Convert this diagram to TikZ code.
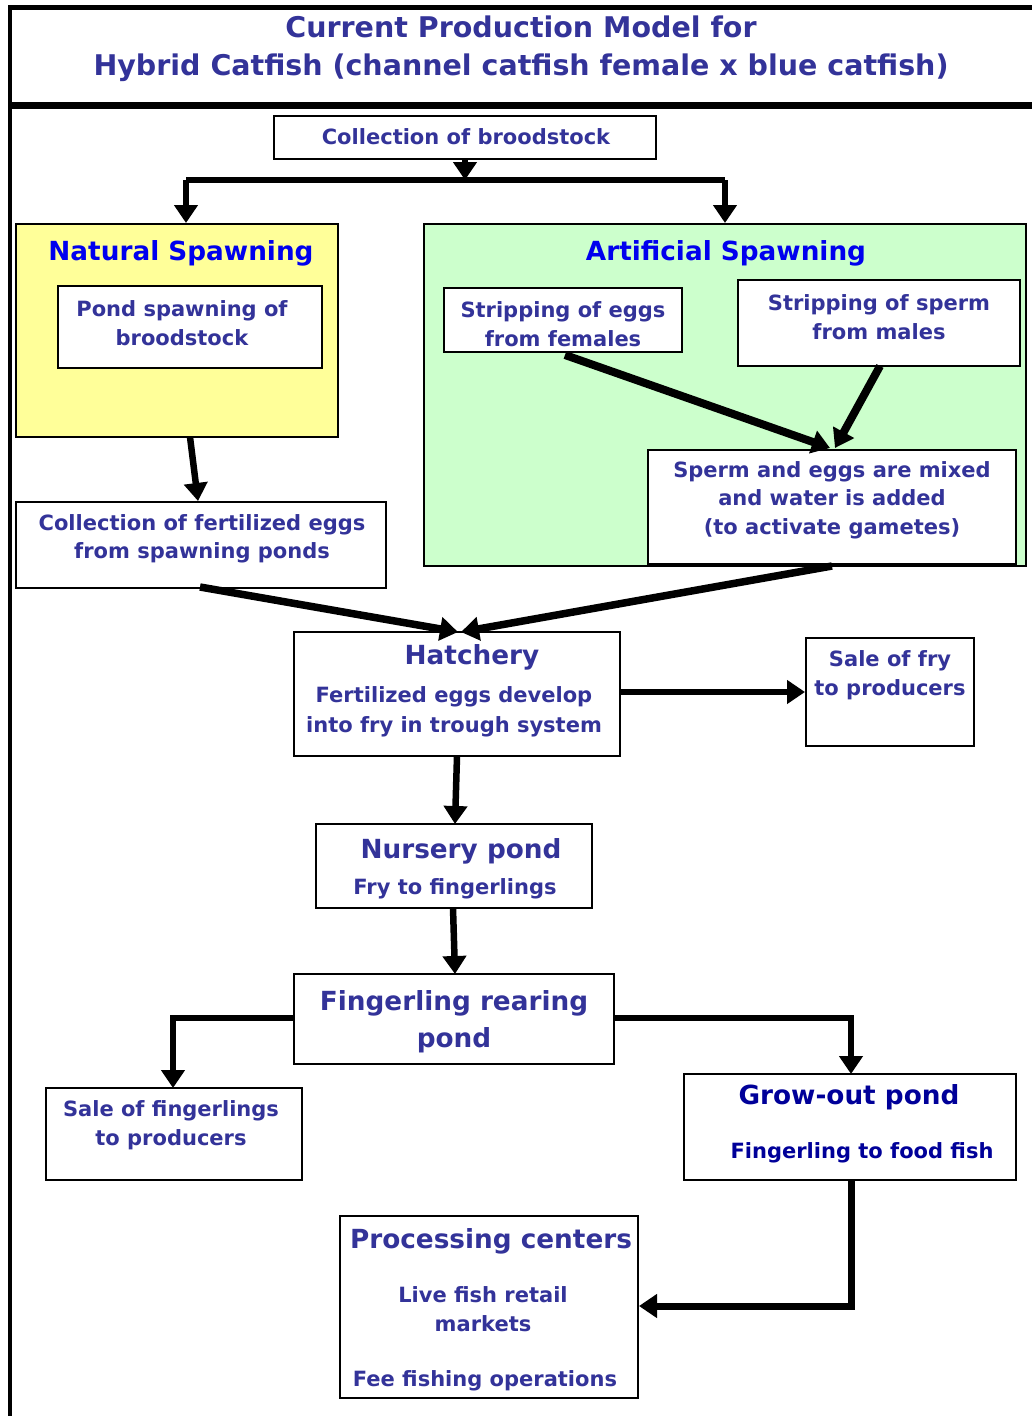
\documentclass[tikz,border=0pt]{standalone}
\usepackage{fontspec}
\setmainfont{DejaVu Sans}[BoldFont={DejaVu Sans Bold}]
\usetikzlibrary{arrows.meta}
\definecolor{txt}{HTML}{333399}
\definecolor{hdblue}{HTML}{0000EE}
\definecolor{navy}{HTML}{000099}
\definecolor{natfill}{HTML}{FFFF99}
\definecolor{artfill}{HTML}{CCFFCC}
\tikzset{
  box/.style={draw=black, line width=2pt, fill=white, inner sep=0pt},
  bodytxt/.style={text=txt, font=\fontsize{21}{28.5}\selectfont\bfseries, align=center, inner sep=0pt},
  headtxt/.style={text=txt, font=\fontsize{26.3}{37}\selectfont\bfseries, align=center, inner sep=0pt},
  tip/.style={-{Triangle[length=18pt,width=23pt]}},
  conn/.style={draw=black, line width=6.5pt, tip},
  connl/.style={draw=black, line width=6.5pt},
}
\begin{document}
\begin{tikzpicture}[x=1pt,y=-1pt]
\useasboundingbox (0,0) rectangle (1032,1416);
% frame
\draw[line width=5pt] (10,7) -- (1032,7);
\draw[line width=7pt] (10,105) -- (1032,105);
\draw[line width=4pt] (10,5) -- (10,1416);
% title
\node[text=txt, font=\fontsize{28.5}{38}\selectfont\bfseries, align=center, inner sep=0pt] (title) at (521,49) {Current Production Model for\\Hybrid Catfish (channel catfish female x blue catfish)};
% broodstock
\node[box, minimum width=382pt, minimum height=43pt] (brood) at (465,137.5) {};
\node[bodytxt] (broodt) at (466,137) {Collection of broodstock};
% spawning containers
\node[draw=black, line width=2pt, fill=natfill, minimum width=322pt, minimum height=213pt, inner sep=0pt] (nat) at (177,330.5) {};
\node[draw=black, line width=2pt, fill=artfill, minimum width=602pt, minimum height=342pt, inner sep=0pt] (art) at (725,395) {};
\node[text=hdblue, font=\fontsize{26.3}{30}\selectfont\bfseries, inner sep=0pt] (natt) at (181,253) {Natural Spawning};
\node[text=hdblue, font=\fontsize{26.3}{30}\selectfont\bfseries, inner sep=0pt] (artt) at (726,253) {Artificial Spawning};
% connectors from broodstock
\coordinate (j) at (465,180);
\coordinate (jl) at (186,180);
\coordinate (jr) at (725,180);
\draw[conn] (brood.south) -- (j);
\draw[connl] (jl) -- (jr);
\draw[conn] (jl) -- (186,223);
\draw[conn] (jr) -- (725,223);
% natural inner
\node[box, minimum width=264pt, minimum height=82pt] (pond) at (190,327) {};
\node[bodytxt] (pondt) at (182,323) {Pond spawning of\\broodstock};
% artificial inner
\node[box, minimum width=238pt, minimum height=64pt] (eggs) at (563,320) {};
\node[bodytxt] (eggst) at (563,324) {Stripping of eggs\\from females};
\node[box, minimum width=282pt, minimum height=86pt] (sperm) at (879,323) {};
\node[bodytxt] (spermt) at (879,317) {Stripping of sperm\\from males};
\node[box, minimum width=368pt, minimum height=114pt] (mix) at (832,507) {};
\node[bodytxt] (mixt) at (832,500) {Sperm and eggs are mixed\\and water is added\\(to activate gametes)};
\draw[connl, line width=8pt, tip] (565,355) -- (830,448);
\draw[connl, line width=8pt, tip] (880,366) -- (835,448);
% fertilized eggs
\node[box, minimum width=370pt, minimum height=86pt] (fert) at (201,545) {};
\node[bodytxt] (fertt) at (202,539) {Collection of fertilized eggs\\from spawning ponds};
\draw[conn] (190,437) -- (fert.north -| 198,0);
% hatchery
\node[box, minimum width=326pt, minimum height=124pt] (hatch) at (457,694) {};
\node[headtxt] (hatcht) at (472,657) {Hatchery};
\node[bodytxt, font=\fontsize{21}{30}\selectfont\bfseries] (hatchs) at (454,712) {Fertilized eggs develop\\into fry in trough system};
\draw[conn, line width=7.5pt] (200,587) -- (458,632);
\draw[conn, line width=7.5pt] (832,566) -- (461,632);
% sale of fry
\node[box, minimum width=168pt, minimum height=108pt] (fry) at (890,692) {};
\node[bodytxt] (fryt) at (890,675) {Sale of fry\\to producers};
\draw[conn] (hatch.east |- 0,692) -- (fry.west |- 0,692);
% nursery
\node[box, minimum width=276pt, minimum height=84pt] (nurs) at (454,866) {};
\node[headtxt] (nurst) at (461,851) {Nursery pond};
\node[bodytxt] (nurss) at (455,889) {Fry to fingerlings};
\draw[conn] (457,756) -- (455,824);
% fingerling rearing
\node[box, minimum width=320pt, minimum height=90pt] (rear) at (454,1019) {};
\node[headtxt] (reart) at (454,1022) {Fingerling rearing\\pond};
\draw[conn] (453,908) -- (455,974);
% sale of fingerlings
\node[box, minimum width=256pt, minimum height=92pt] (salef) at (174,1134) {};
\node[bodytxt] (saleft) at (171,1125) {Sale of fingerlings\\to producers};
\draw[connl, tip] (rear.west |- 0,1018) -- (173,1018) -- (173,1088);
% grow-out
\node[box, minimum width=332pt, minimum height=106pt] (grow) at (850,1127) {};
\node[text=navy, font=\fontsize{26.3}{30}\selectfont\bfseries, inner sep=0pt] (growt) at (849,1097) {Grow-out pond};
\node[text=navy, font=\fontsize{21}{24}\selectfont\bfseries, inner sep=0pt] (grows) at (862,1153) {Fingerling to food fish};
\draw[connl, tip] (rear.east |- 0,1018) -- (851,1018) -- (851,1074);
% processing
\node[box, minimum width=298pt, minimum height=182pt] (proc) at (489,1307) {};
\node[headtxt] (proct) at (491,1241) {Processing centers};
\node[bodytxt] (procs) at (483,1309) {Live fish retail\\markets};
\node[bodytxt] (proce) at (485,1381) {Fee fishing operations};
\draw[connl, line width=7pt, tip] (851,1180) -- (851,1306) -- (proc.east |- 0,1306);
\end{tikzpicture}
\end{document}
